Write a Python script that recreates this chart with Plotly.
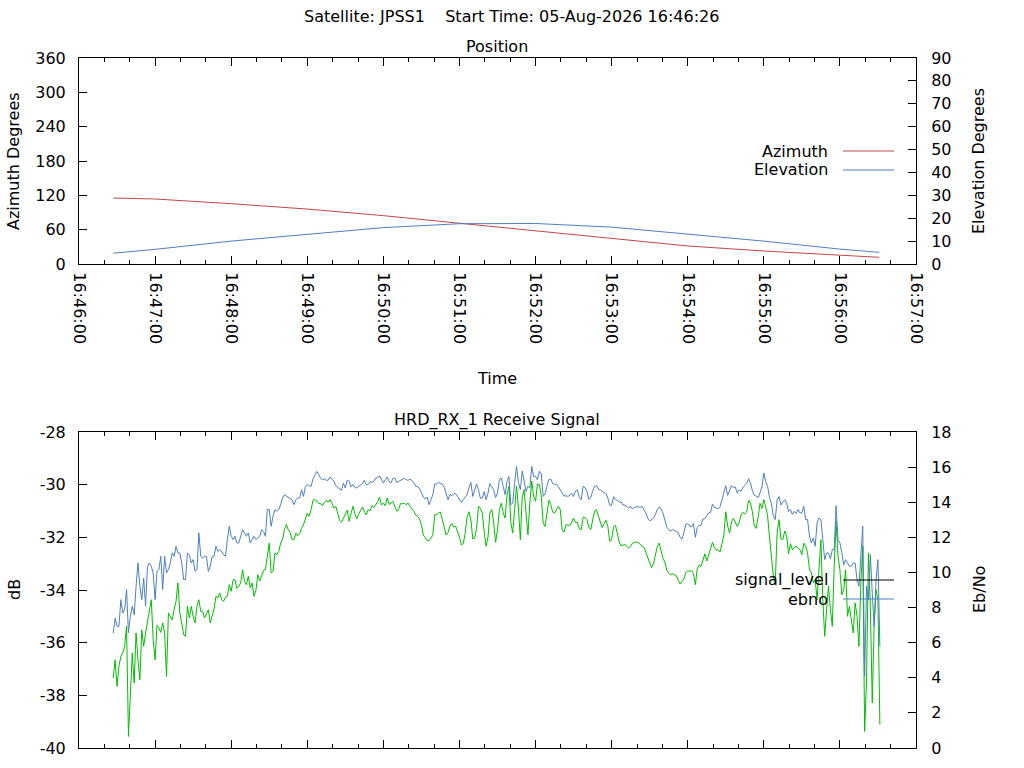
import plotly.graph_objects as go
from datetime import datetime, timedelta

# ---------------- data ----------------
pass_date = "2026-08-05"
title_text = "Satellite: JPSS1\u00a0\u00a0\u00a0\u00a0Start Time: 05-Aug-2026 16:46:26"

# Position panel (azimuth on left axis, elevation on right axis)
pos_times = ["16:46:27", "16:47:00", "16:48:00", "16:49:00", "16:50:00", "16:51:00",
             "16:52:00", "16:53:00", "16:54:00", "16:55:00", "16:56:00", "16:56:31"]
azimuth = [115.3, 113.6, 105.4, 96.0, 84.5, 71.0, 57.7, 44.0, 31.5, 22.7, 15.2, 11.7]
elevation = [4.7, 6.4, 10.0, 13.0, 15.9, 17.6, 17.7, 16.1, 13.0, 10.0, 6.5, 5.1]

# Receive signal panel, one sample every 1.5 s starting at sig_start
sig_start = "16:46:27"
sig_step_s = 1.5
ebno = [
    6.55, 7.40, 6.93, 6.93, 8.45, 7.69, 7.88, 9.02, 6.55, 7.50,
    8.07, 7.59, 9.21, 10.54, 9.21, 8.45, 9.68, 8.07, 10.35, 10.54,
    10.35, 9.97, 8.45, 10.06, 10.16, 10.92, 9.02, 10.92, 9.97, 10.16,
    10.54, 11.11, 10.92, 11.49, 11.11, 11.11, 10.54, 9.59, 9.59, 11.11,
    11.01, 10.54, 10.73, 10.06, 10.16, 12.25, 10.92, 10.82, 10.92, 10.92,
    10.06, 10.35, 10.92, 10.92, 11.49, 11.20, 11.30, 11.20, 11.01, 10.92,
    11.87, 12.63, 12.06, 11.87, 12.06, 11.68, 11.68, 12.06, 12.44, 12.25,
    12.06, 12.25, 11.68, 11.87, 12.06, 11.87, 11.96, 12.06, 12.44, 12.34,
    12.06, 13.58, 13.58, 12.63, 13.20, 13.58, 13.48, 13.58, 13.86, 14.24,
    14.43, 14.37, 14.28, 14.24, 14.14, 13.86, 14.14, 14.24, 14.24, 14.71,
    14.33, 14.90, 15.00, 14.94, 14.90, 15.32, 15.51, 15.76, 15.57, 15.36,
    15.28, 15.32, 15.25, 15.26, 15.44, 15.28, 15.19, 14.94, 14.85, 14.79,
    14.68, 15.09, 14.81, 15.26, 15.19, 14.87, 15.00, 14.85, 14.81, 14.90,
    15.00, 15.06, 15.25, 15.00, 15.00, 15.17, 15.13, 15.19, 15.38, 15.40,
    15.51, 15.28, 15.09, 15.28, 15.44, 15.17, 15.09, 15.36, 15.38, 15.13,
    15.19, 15.28, 15.32, 15.36, 15.28, 15.25, 15.32, 15.21, 15.13, 14.90,
    14.90, 14.77, 14.49, 14.30, 14.18, 14.30, 13.86, 14.14, 14.43, 15.04,
    15.04, 15.13, 15.09, 15.02, 14.85, 14.49, 14.14, 14.45, 14.37, 14.49,
    14.49, 14.33, 14.14, 13.99, 14.14, 14.30, 14.43, 14.83, 15.13, 14.33,
    14.68, 15.04, 14.71, 14.22, 14.24, 14.60, 14.14, 14.52, 15.06, 14.90,
    14.71, 14.26, 14.52, 15.28, 15.38, 14.90, 14.43, 15.19, 15.47, 13.86,
    13.95, 15.09, 16.04, 15.13, 14.71, 15.78, 15.28, 14.62, 14.90, 14.81,
    16.04, 15.47, 15.47, 15.28, 15.76, 15.63, 14.33, 14.49, 14.90, 15.30,
    15.32, 15.06, 15.02, 15.02, 14.89, 14.71, 14.51, 14.35, 14.37, 14.33,
    14.39, 14.51, 14.33, 14.64, 14.71, 14.28, 14.14, 14.90, 14.83, 14.62,
    14.16, 14.26, 14.62, 14.90, 14.94, 14.75, 14.71, 14.62, 14.54, 14.51,
    14.24, 13.84, 13.82, 14.32, 14.14, 14.11, 14.01, 14.01, 13.84, 13.84,
    13.77, 13.67, 13.75, 13.61, 13.71, 13.71, 13.75, 13.69, 13.77, 13.56,
    13.39, 13.10, 12.95, 12.99, 13.10, 13.29, 13.59, 13.73, 13.63, 13.37,
    12.93, 12.57, 12.44, 12.36, 12.44, 12.38, 12.34, 12.28, 12.00, 11.90,
    12.28, 12.74, 12.78, 12.63, 12.61, 12.78, 12.00, 12.55, 12.68, 12.68,
    13.04, 13.06, 13.23, 13.39, 13.42, 13.90, 13.71, 13.67, 13.63, 13.75,
    14.13, 14.43, 14.94, 14.39, 14.71, 14.94, 14.85, 14.87, 14.52, 14.70,
    14.63, 14.85, 14.94, 15.06, 15.34, 15.09, 14.66, 14.39, 14.35, 14.26,
    14.54, 14.87, 15.66, 15.17, 14.90, 14.26, 13.94, 13.23, 13.01, 14.14,
    14.33, 13.84, 14.01, 14.14, 13.95, 13.46, 13.58, 13.31, 13.48, 13.35,
    13.58, 13.39, 13.39, 13.77, 13.01, 13.01, 12.06, 11.68, 11.96, 11.49,
    12.82, 13.10, 13.01, 11.68, 10.73, 11.11, 11.11, 10.77, 11.30, 11.30,
    13.80, 11.87, 11.68, 11.11, 10.44, 10.73, 10.54, 10.35, 10.35, 10.54,
    10.54, 9.59, 9.21, 10.73, 12.63, 4.08, 9.21, 8.45, 11.01, 8.83,
    6.93, 9.59, 10.73, 5.79,
]
signal_level = [
    -37.34, -36.65, -37.66, -36.90, -36.52, -36.39, -36.14, -35.38, -39.56, -37.91,
    -36.39, -37.53, -35.63, -36.65, -37.41, -35.51, -36.14, -35.63, -35.25, -34.75,
    -34.37, -35.89, -36.65, -35.34, -35.44, -35.61, -35.25, -35.63, -37.28, -34.87,
    -35.00, -35.13, -34.75, -34.43, -33.73, -34.87, -35.25, -35.70, -35.76, -34.62,
    -35.06, -34.62, -35.00, -35.25, -34.62, -34.37, -34.81, -34.82, -35.06, -34.87,
    -34.75, -35.25, -34.94, -34.72, -34.24, -34.30, -34.11, -34.37, -34.43, -34.27,
    -34.24, -33.80, -34.05, -33.61, -33.61, -33.94, -33.86, -33.73, -33.23, -33.67,
    -33.80, -33.48, -33.92, -33.73, -34.24, -34.01, -33.42, -33.66, -33.48, -33.25,
    -33.23, -32.67, -32.22, -33.35, -33.29, -32.59, -32.66, -32.54, -32.22, -32.09,
    -31.71, -31.51, -31.71, -31.81, -32.09, -32.09, -31.84, -31.94, -31.86, -31.66,
    -31.52, -31.30, -31.08, -31.20, -30.95, -30.59, -30.57, -30.62, -30.72, -30.71,
    -30.80, -30.67, -30.59, -30.67, -30.57, -30.72, -30.89, -30.82, -31.08, -31.35,
    -31.43, -31.28, -31.14, -30.97, -31.39, -31.08, -30.82, -31.10, -31.30, -31.13,
    -31.01, -30.85, -31.01, -31.15, -30.95, -31.00, -30.80, -30.87, -30.76, -30.65,
    -30.47, -30.77, -30.70, -30.80, -30.51, -30.75, -30.70, -30.63, -30.82, -31.00,
    -30.95, -30.72, -30.72, -30.71, -30.76, -30.70, -30.82, -30.90, -31.01, -31.15,
    -31.20, -31.30, -31.52, -31.91, -31.99, -32.11, -32.13, -32.01, -31.92, -31.14,
    -31.14, -31.08, -31.04, -31.33, -31.58, -31.91, -31.81, -31.58, -31.48, -31.61,
    -31.58, -31.78, -31.99, -32.29, -32.24, -31.84, -31.23, -31.03, -31.33, -32.06,
    -32.03, -31.66, -30.82, -30.90, -31.08, -31.78, -32.34, -31.99, -31.08, -30.95,
    -31.46, -32.19, -31.71, -30.95, -30.70, -31.08, -31.27, -30.39, -30.06, -31.43,
    -31.84, -30.95, -30.06, -30.89, -32.09, -30.47, -30.19, -31.08, -31.90, -30.70,
    -29.87, -30.44, -30.63, -29.97, -30.00, -30.42, -31.46, -31.59, -31.08, -30.59,
    -30.76, -31.04, -31.08, -30.92, -30.82, -30.95, -31.73, -31.80, -31.52, -31.53,
    -31.56, -31.42, -31.27, -31.44, -31.43, -31.68, -31.71, -31.24, -31.25, -31.33,
    -31.61, -31.71, -31.39, -31.00, -30.95, -31.16, -31.39, -31.63, -31.48, -31.35,
    -31.58, -32.15, -32.09, -31.61, -31.54, -31.90, -32.18, -32.32, -32.28, -32.27,
    -32.34, -32.41, -32.33, -32.22, -32.19, -32.18, -32.20, -32.28, -32.34, -32.38,
    -32.59, -32.78, -33.00, -33.15, -33.00, -32.72, -32.35, -32.22, -32.47, -32.80,
    -32.94, -33.25, -33.35, -33.42, -33.38, -33.41, -33.46, -33.63, -33.77, -33.67,
    -33.58, -33.34, -33.27, -33.29, -33.27, -33.38, -33.80, -33.20, -33.06, -33.10,
    -32.85, -32.63, -32.90, -32.67, -32.44, -32.19, -32.39, -32.49, -32.47, -32.56,
    -32.24, -31.91, -31.03, -31.58, -31.84, -31.41, -31.28, -31.43, -31.58, -31.44,
    -31.16, -31.05, -31.11, -31.04, -30.59, -30.70, -31.03, -31.58, -31.66, -31.23,
    -30.71, -30.90, -30.57, -30.85, -31.20, -31.99, -32.72, -33.48, -33.73, -31.84,
    -31.33, -32.06, -32.09, -31.76, -31.94, -32.62, -32.24, -32.47, -32.37, -32.34,
    -32.41, -32.47, -32.66, -32.22, -32.34, -32.59, -33.23, -33.35, -33.73, -33.61,
    -34.37, -33.10, -32.09, -34.37, -35.76, -34.75, -33.86, -34.75, -35.38, -33.10,
    -31.39, -32.72, -33.23, -34.18, -33.99, -33.23, -35.00, -34.62, -35.13, -35.63,
    -34.49, -35.00, -36.14, -33.73, -32.34, -39.37, -37.41, -32.59, -34.62, -38.29,
    -35.38, -33.99, -34.37, -39.11,
]

az_ticks = [0, 60, 120, 180, 240, 300, 360]
el_ticks = [0, 10, 20, 30, 40, 50, 60, 70, 80, 90]
db_ticks = [-40, -38, -36, -34, -32, -30, -28]
db_labels = ["-40", "-38", "-36", "-34", "-32", "-30", "-28"]
ebno_ticks = [0, 2, 4, 6, 8, 10, 12, 14, 16, 18]

# ---------------- helpers ----------------
W, H = 1024, 768
FONT = "DejaVu Sans"
RED, BLUE, GREEN = "#c04848", "#4f7fbf", "#00c000"


def px(x):          # window pixel column -> paper x
    return x / W


def py(y):          # window pixel row -> paper y
    return 1 - y / H


t0 = datetime.fromisoformat(f"{pass_date} {sig_start}")
pos_x = [f"{pass_date} {t}" for t in pos_times]
ebno_x = [t0 + timedelta(seconds=sig_step_s * i) for i in range(len(ebno))]
sig_x = [t0 + timedelta(seconds=sig_step_s * i) for i in range(len(signal_level))]
x_range = [f"{pass_date} 16:46:00", f"{pass_date} 16:57:00"]

fig = go.Figure()
fig.add_trace(go.Scatter(x=pos_x, y=azimuth, mode="lines", name="Azimuth",
                         line=dict(color=RED, width=1), xaxis="x", yaxis="y"))
fig.add_trace(go.Scatter(x=pos_x, y=elevation, mode="lines", name="Elevation",
                         line=dict(color=BLUE, width=1), xaxis="x", yaxis="y2"))
fig.add_trace(go.Scatter(x=ebno_x, y=ebno, mode="lines", name="ebno",
                         line=dict(color=BLUE, width=1), xaxis="x2", yaxis="y4"))
fig.add_trace(go.Scatter(x=sig_x, y=signal_level, mode="lines", name="signal_level",
                         line=dict(color=GREEN, width=1), xaxis="x2", yaxis="y3"))

tickfont = dict(family=FONT, size=16, color="black")
common_x = dict(type="date", range=x_range, dtick=60000, tick0=x_range[0],
                ticks="inside", ticklen=8, tickcolor="black", showline=True,
                linecolor="black", linewidth=1, mirror="ticks", showgrid=False,
                zeroline=False, tickfont=tickfont, automargin=False,
                minor=dict(dtick=20000, ticks="inside", ticklen=4, tickcolor="black"))
common_y = dict(ticks="inside", ticklen=8, tickcolor="black", showline=True,
                linecolor="black", linewidth=1, showgrid=False, zeroline=False,
                tickfont=tickfont, automargin=False)

top_dom = [py(264), py(58)]
bot_dom = [py(748), py(432)]
x_dom = [px(79), px(916)]

fig.update_layout(
    width=W, height=H, margin=dict(l=0, r=0, t=0, b=0, autoexpand=False),
    paper_bgcolor="white", plot_bgcolor="white", showlegend=False,
    font=dict(family=FONT, size=16, color="black"),
    xaxis=dict(common_x, domain=x_dom, anchor="y", tickformat="%H:%M:%S",
               tickangle=90, ticklabelstandoff=4),
    yaxis=dict(common_y, domain=top_dom, anchor="x", range=[0, 360],
               tickvals=az_ticks, ticklabelstandoff=9),
    yaxis2=dict(common_y, overlaying="y", side="right", anchor="x",
                range=[0, 90], tickvals=el_ticks, ticklabelstandoff=11),
    xaxis2=dict(common_x, domain=x_dom, anchor="y3", showticklabels=False),
    yaxis3=dict(common_y, domain=bot_dom, anchor="x2", range=[-40, -28],
                tickvals=db_ticks, ticktext=db_labels, ticklabelstandoff=9),
    yaxis4=dict(common_y, overlaying="y3", side="right", anchor="x2",
                range=[0, 18], tickvals=ebno_ticks, ticklabelstandoff=11),
)


def label(text, x, y, xanchor="center", angle=0):
    fig.add_annotation(text=text, x=px(x), y=py(y), xref="paper", yref="paper",
                       xanchor=xanchor, yanchor="middle", textangle=angle,
                       showarrow=False, font=dict(family=FONT, size=16, color="black"))


label(title_text, 511, 17)
label("Position", 497, 46)
label("HRD_RX_1 Receive Signal", 497, 420)
label("Time", 497, 379)
label("Azimuth Degrees", 14, 161, angle=-90)
label("Elevation Degrees", 979, 161, angle=-90)
label("dB", 14, 590, angle=-90)
label("Eb/No", 979, 590, angle=-90)

# gnuplot-style keys: text right-aligned, line sample to its right
for text, y, color in [("Azimuth", 151, RED), ("Elevation", 170, BLUE),
                       ("signal_level", 580, "black"), ("ebno", 599, BLUE)]:
    label(text, 830, y, xanchor="right")
    fig.add_shape(type="line", xref="paper", yref="paper",
                  x0=px(843), x1=px(894), y0=py(y), y1=py(y),
                  line=dict(color=color, width=1))

# drop the default 8px body margin so the figure fills the window exactly
fig.write_html("out.html", config={"displayModeBar": False},
               post_script="document.body.style.margin = '0';")
